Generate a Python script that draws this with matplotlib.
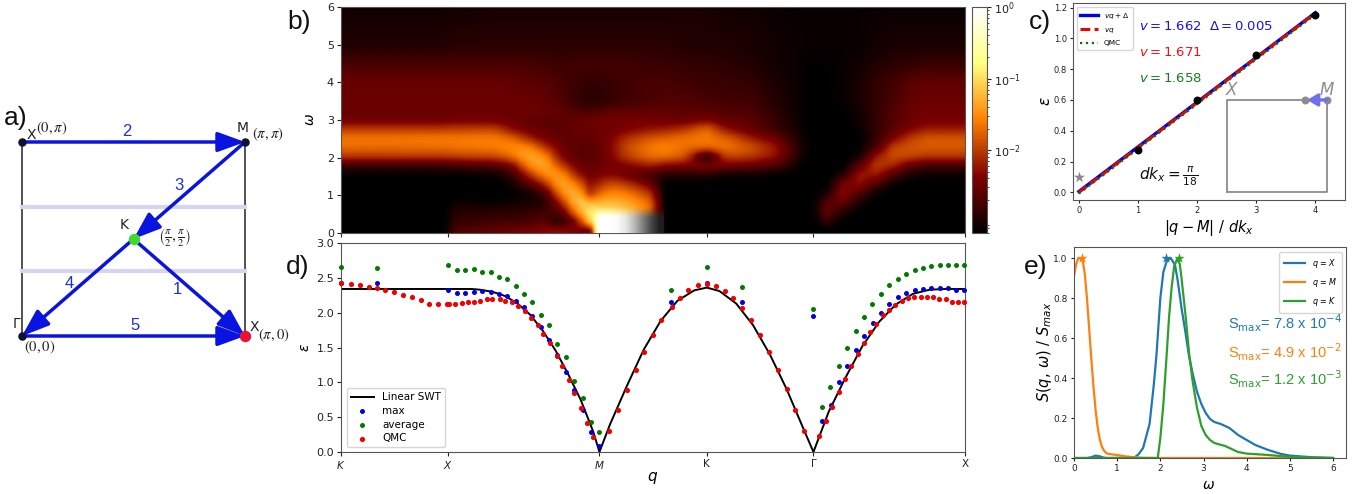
import numpy as np
import matplotlib
matplotlib.use("Agg")
import matplotlib.pyplot as plt
from matplotlib.cm import ScalarMappable
from matplotlib.colors import LogNorm
from matplotlib.ticker import LogLocator, NullFormatter

W, H = 1364, 494

# ---------- shared path ticks ----------
q_ticks = [0, 12.75, 30.73, 43.5, 56.18, 74.2]
q_labels = ['$K$', '$X$', '$M$', 'K', 'Γ', 'X']

# ---------- panel b: log10 S(q, w) ----------
omega_rows = [0, .25, .5, .75, 1, 1.25, 1.5, 1.75, 2, 2.25, 2.5, 2.75, 3, 3.25, 3.5, 4, 4.5, 5, 6]
q_cols = [0, 6, 12, 13, 18, 20, 22, 24, 26, 28, 29.5, 30.7, 32, 34, 37, 38.5, 41, 43.5, 46, 49,
          52, 55, 56.5, 58, 60, 62, 64, 66, 68, 70, 74.2]
log_s_cols = [
    [-3.2, -3.2, -3.2, -3.2, -3.2, -3.2, -3.15, -2.85, -2.05, -1.72, -1.62, -2.0, -2.48, -2.5, -2.5, -2.5, -2.7, -2.95, -3.05],
    [-3.2, -3.2, -3.2, -3.2, -3.2, -3.2, -3.15, -2.85, -2.05, -1.72, -1.62, -2.0, -2.48, -2.5, -2.5, -2.5, -2.7, -2.95, -3.05],
    [-3.2, -3.2, -3.2, -3.2, -3.2, -3.2, -3.15, -2.85, -2.05, -1.7, -1.6, -2.0, -2.48, -2.5, -2.5, -2.5, -2.7, -2.95, -3.05],
    [-2.7, -2.85, -2.95, -3.05, -3.2, -3.2, -3.15, -2.8, -2.0, -1.68, -1.6, -1.98, -2.45, -2.5, -2.5, -2.5, -2.7, -2.9, -3.05],
    [-2.55, -2.75, -2.9, -3.1, -3.2, -3.2, -3.1, -2.7, -1.95, -1.62, -1.58, -1.95, -2.45, -2.5, -2.5, -2.5, -2.7, -2.9, -3.0],
    [-2.5, -2.75, -2.9, -3.05, -3.15, -3.1, -2.9, -2.5, -1.75, -1.5, -1.7, -2.3, -2.5, -2.5, -2.5, -2.55, -2.7, -2.9, -3.0],
    [-2.45, -2.7, -2.85, -3.0, -3.1, -2.7, -2.2, -1.6, -1.3, -1.45, -2.1, -2.5, -2.55, -2.5, -2.5, -2.6, -2.7, -2.9, -3.0],
    [-2.35, -2.6, -2.75, -3.0, -2.8, -2.2, -1.55, -1.25, -1.4, -2.0, -2.45, -2.55, -2.6, -2.5, -2.55, -2.6, -2.75, -2.9, -3.0],
    [-2.3, -3.0, -2.7, -2.2, -1.6, -1.25, -1.35, -1.9, -2.4, -2.5, -2.55, -2.6, -2.6, -2.55, -2.65, -2.7, -2.8, -2.9, -3.0],
    [-2.4, -2.3, -1.5, -1.05, -1.1, -1.6, -2.2, -2.5, -2.6, -2.6, -2.55, -2.5, -2.55, -2.65, -2.85, -2.8, -2.75, -2.9, -3.0],
    [-2.6, -1.1, -0.85, -1.2, -2.1, -2.3, -2.45, -2.55, -2.6, -2.6, -2.55, -2.5, -2.5, -2.7, -2.9, -2.85, -2.75, -2.9, -3.0],
    [-0.2, -0.4, -0.85, -1.25, -1.7, -2.1, -2.4, -2.5, -2.55, -2.55, -2.5, -2.45, -2.45, -2.65, -2.9, -2.85, -2.75, -2.9, -3.0],
    [-0.3, -0.5, -0.9, -1.2, -1.5, -1.85, -2.3, -2.45, -2.4, -2.35, -2.4, -2.5, -2.45, -2.55, -2.85, -2.8, -2.75, -2.9, -3.0],
    [-0.8, -0.9, -1.1, -1.3, -1.6, -2.0, -2.5, -2.4, -2.0, -1.9, -2.05, -2.4, -2.45, -2.55, -2.75, -2.75, -2.75, -2.9, -3.0],
    [-1.5, -1.6, -1.7, -1.75, -2.05, -2.5, -2.8, -2.2, -1.7, -1.6, -1.8, -2.25, -2.45, -2.55, -2.7, -2.7, -2.8, -2.9, -3.0],
    [-3.2, -3.2, -3.2, -3.2, -3.2, -3.2, -2.95, -2.4, -1.7, -1.55, -1.75, -2.2, -2.5, -2.55, -2.65, -2.7, -2.8, -2.9, -3.0],
    [-3.2, -3.2, -3.2, -3.2, -3.2, -3.2, -2.95, -2.45, -1.85, -1.7, -1.65, -2.05, -2.5, -2.6, -2.65, -2.75, -2.85, -2.95, -3.0],
    [-3.2, -3.2, -3.2, -3.2, -3.2, -3.2, -2.95, -2.35, -3.1, -1.75, -1.6, -1.7, -2.4, -2.6, -2.7, -2.8, -2.85, -2.95, -3.0],
    [-3.2, -3.2, -3.2, -3.2, -3.2, -3.2, -3.1, -2.5, -1.95, -1.65, -1.75, -2.3, -2.55, -2.65, -2.75, -2.8, -2.9, -2.95, -3.05],
    [-3.2, -3.2, -3.2, -3.2, -3.2, -3.2, -3.1, -2.55, -2.05, -1.85, -2.2, -2.55, -2.6, -2.7, -2.75, -2.85, -2.95, -3.0, -3.05],
    [-3.2, -3.2, -3.2, -3.2, -3.2, -3.2, -3.15, -2.75, -2.3, -2.25, -2.5, -2.8, -2.85, -2.9, -2.95, -3.0, -3.05, -3.05, -3.1],
    [-3.2, -3.2, -3.2, -3.2, -3.2, -3.2, -3.2, -3.15, -3.05, -3.0, -3.05, -3.1, -3.1, -3.1, -3.1, -3.1, -3.1, -3.1, -3.1],
    [-3.2, -3.2, -3.2, -3.2, -3.2, -3.2, -3.2, -3.2, -3.2, -3.2, -3.2, -3.2, -3.2, -3.2, -3.2, -3.2, -3.15, -3.1, -3.1],
    [-3.2, -2.8, -2.5, -2.6, -3.0, -3.2, -3.2, -3.2, -3.2, -3.2, -3.2, -3.2, -3.2, -3.2, -3.2, -3.15, -3.15, -3.1, -3.1],
    [-3.2, -3.2, -2.95, -2.55, -2.3, -2.4, -2.9, -3.2, -3.2, -3.2, -3.2, -3.2, -3.15, -3.15, -3.1, -3.1, -3.1, -3.1, -3.1],
    [-3.2, -3.2, -3.2, -3.0, -2.7, -2.3, -2.2, -2.55, -3.0, -3.15, -3.15, -3.1, -3.05, -3.05, -3.0, -3.0, -3.05, -3.1, -3.1],
    [-3.2, -3.2, -3.2, -3.2, -3.1, -2.7, -2.25, -2.0, -2.2, -2.7, -2.85, -2.85, -2.85, -2.85, -2.85, -2.85, -2.95, -3.05, -3.1],
    [-3.2, -3.2, -3.2, -3.2, -3.2, -3.1, -2.7, -2.15, -1.9, -1.95, -2.4, -2.6, -2.65, -2.65, -2.7, -2.75, -2.9, -3.0, -3.1],
    [-3.2, -3.2, -3.2, -3.2, -3.2, -3.2, -3.0, -2.6, -1.95, -1.85, -2.0, -2.4, -2.5, -2.5, -2.55, -2.6, -2.85, -3.0, -3.1],
    [-3.2, -3.2, -3.2, -3.2, -3.2, -3.2, -3.1, -2.8, -2.05, -1.82, -1.82, -2.2, -2.45, -2.45, -2.5, -2.55, -2.8, -3.0, -3.1],
    [-3.2, -3.2, -3.2, -3.2, -3.2, -3.2, -3.1, -2.8, -2.05, -1.82, -1.82, -2.2, -2.45, -2.45, -2.5, -2.55, -2.8, -3.0, -3.1],
]
# white/grey glow next to M, fades out towards q = 38
glow_gray = [1.0, 1.0, 1.0, 0.98, 0.9, 0.72, 0.5, 0.28, 0.12]
glow_fade = [0.0, 1.0, 1.0, 1.0, 1.0, 1.0, 1.0, 1.0, 1.0]
glow_rows = [1.0, 1.0, 0.0]

# ---------- panel d ----------
swt_q = [0, 8, 14, 15.5, 16.5, 18, 19.5, 21, 22.5, 24, 25.5, 27, 28.5, 30, 30.73, 32, 34, 36, 38, 40, 42, 43.5,
         45, 47, 49, 51, 53, 55, 56.18, 58, 60, 62, 64, 66, 68, 70, 72, 74.2]
swt_e = [2.34, 2.34, 2.34, 2.34, 2.33, 2.30, 2.24, 2.13, 1.97, 1.74, 1.46, 1.12, 0.75, 0.29, 0, 0.40, 0.95, 1.47,
         1.88, 2.17, 2.32, 2.36, 2.31, 2.13, 1.82, 1.40, 0.90, 0.33, 0, 0.58, 1.07, 1.52, 1.87, 2.12, 2.27, 2.33, 2.34, 2.34]

max_q = [0, 4.26, 12.74, 13.77, 14.76, 15.76, 16.75, 17.78, 18.77, 19.76, 20.75, 21.74, 22.77, 23.76, 24.75, 25.74,
         26.77, 27.76, 28.75, 29.78, 30.73, 39.22, 43.5, 47.74, 56.18, 57.21, 58.24, 59.19, 60.18, 61.21, 62.2, 63.23,
         64.23, 65.22, 66.21, 67.2, 68.23, 69.22, 70.21, 71.2, 72.19, 73.18, 74.13]
max_e = [2.43, 2.43, 2.33, 2.28, 2.28, 2.30, 2.31, 2.30, 2.27, 2.24, 2.17, 2.08, 1.95, 1.80, 1.61, 1.39, 1.15, 0.89,
         0.60, 0.28, 0.09, 2.16, 2.43, 2.16, 1.95, 0.44, 0.67, 1.01, 1.23, 1.46, 1.67, 1.85, 2.0, 2.13, 2.23, 2.28,
         2.32, 2.34, 2.36, 2.35, 2.35, 2.33, 2.33]

avg_q = [0, 4.26, 12.74, 13.77, 14.76, 15.76, 16.75, 17.78, 18.77, 19.76, 20.75, 21.74, 22.77, 23.76, 24.75, 25.74,
         26.77, 27.76, 28.75, 29.78, 30.73, 39.22, 43.5, 47.74, 56.18, 57.21, 58.2, 59.19, 60.18, 61.21, 62.2, 63.2,
         64.19, 65.22, 66.21, 67.2, 68.23, 69.22, 70.21, 71.2, 72.19, 73.18, 74.13]
avg_e = [2.66, 2.64, 2.68, 2.61, 2.61, 2.62, 2.58, 2.59, 2.51, 2.48, 2.38, 2.27, 2.16, 1.96, 1.82, 1.55, 1.37, 1.02,
         0.78, 0.43, 0.28, 2.32, 2.66, 2.37, 2.05, 0.65, 0.94, 1.24, 1.50, 1.74, 1.94, 2.12, 2.27, 2.39, 2.49, 2.56,
         2.61, 2.64, 2.67, 2.68, 2.68, 2.68, 2.68]

qmc_q = [0, 1.13, 2.24, 3.35, 4.26, 5.25, 6.28, 7.39, 8.46, 9.57, 10.44, 11.51, 12.66, 12.86, 13.54, 14.37, 15.08,
         15.76, 16.55, 17.34, 18.01, 18.85, 19.52, 20.31, 21.1, 21.86, 22.65, 23.37, 24.04, 24.83, 25.66, 26.3, 27.09,
         27.73, 28.56, 29.27, 30.02, 31.85, 32.96, 33.95, 35.02, 36.05, 37.11, 38.11, 39.33, 40.33, 41.32, 42.43,
         43.54, 44.65, 45.64, 46.63, 47.74, 48.81, 49.8, 50.91, 52.02, 53.01, 54.0, 55.07, 56.89, 57.69, 58.36, 59.19,
         59.91, 60.66, 61.45, 62.16, 62.92, 63.63, 64.46, 65.22, 65.93, 66.68, 67.4, 68.19, 68.98, 69.7, 70.37, 71.12,
         71.95, 72.67, 73.42, 74.13]
qmc_e = [2.42, 2.41, 2.39, 2.37, 2.35, 2.32, 2.29, 2.26, 2.22, 2.18, 2.13, 2.13, 2.13, 2.13, 2.125, 2.14, 2.15, 2.16,
         2.17, 2.19, 2.20, 2.20, 2.17, 2.15, 2.09, 2.02, 1.93, 1.83, 1.70, 1.57, 1.38, 1.23, 1.04, 0.84, 0.63, 0.42,
         0.21, 0.30, 0.60, 0.89, 1.18, 1.44, 1.68, 1.90, 2.08, 2.21, 2.33, 2.39, 2.41, 2.38, 2.31, 2.21, 2.06, 1.89,
         1.68, 1.44, 1.18, 0.90, 0.60, 0.30, 0.23, 0.45, 0.65, 0.86, 1.05, 1.24, 1.41, 1.57, 1.72, 1.84, 1.96, 2.04,
         2.11, 2.17, 2.21, 2.23, 2.23, 2.22, 2.22, 2.19, 2.19, 2.16, 2.16, 2.15]

# ---------- panel c ----------
fit_x = [0, 4]
fit_blue = [0.005, 1.167]
fit_red = [0.0, 1.165]
fit_green = [-0.008, 1.155]
qmc_x = [1, 2, 3, 4]
qmc_y = [0.275, 0.60, 0.89, 1.15]

# ---------- panel e ----------
wx = [0, .3, .4, .5, .6, .7, .8, 1.4, 1.5, 1.6, 1.75, 1.85, 1.91, 2.0, 2.07, 2.15, 2.24, 2.34, 2.4, 2.49, 2.58, 2.66,
      2.75, 2.85, 2.95, 3.05, 3.15, 3.25, 3.4, 3.6, 3.8, 4.0, 4.2, 4.5, 4.8, 5.0, 5.5, 6.0]
sx = [0, 0, .004, .012, .008, .001, 0, .002, .02, .05, .17, .37, .515, .8, .93, .985, 1.0, .965, .89, .75, .63, .515,
      .42, .33, .27, .225, .195, .18, .17, .15, .115, .09, .065, .04, .02, .012, .004, 0]
wm = [0, .05, .1, .2, .25, .3, .35, .4, .45, .5, .55, .6, .65, .7, .75, .8, 1.0, 1.2, 1.4, 1.6, 2.0, 6.0]
sm = [.91, .97, 1.0, .99, .92, .8, .65, .5, .36, .24, .15, .09, .055, .035, .025, .02, .015, .008, .004, .001, 0, 0]
wk = [0, 1.94, 2.0, 2.07, 2.146, 2.2, 2.26, 2.32, 2.4, 2.45, 2.49, 2.58, 2.67, 2.75, 2.85, 2.95, 3.05, 3.15, 3.25, 3.5,
      3.8, 4.0, 4.5, 5.0, 5.5, 6.0]
sk = [0, 0, .1, .27, .515, .7, .85, .96, 1.0, .97, .9, .72, .515, .38, .25, .16, .115, .09, .075, .06, .03, .022, .015,
      .006, .002, 0]
star_w = [2.13, 0.19, 2.43]

# ---------- panel a ----------
path_x = {'X1': 0, 'M': 1, 'K': 0.5, 'G': 0, 'X2': 1}
path_y = {'X1': 1, 'M': 1, 'K': 0.5, 'G': 0, 'X2': 0}
path_order = [('X1', 'M'), ('M', 'K'), ('K', 'G'), ('K', 'X2'), ('G', 'X2')]


def px_axes(fig, left, top, right, bottom):
    return fig.add_axes([left / W, 1 - bottom / H, (right - left) / W, (bottom - top) / H])


def ftext(fig, x, y, s, **kw):
    kw.setdefault('ha', 'center')
    kw.setdefault('va', 'center')
    return fig.text(x / W, 1 - y / H, s, **kw)


plt.rcParams['font.family'] = 'DejaVu Sans'
plt.rcParams['axes.edgecolor'] = '#555555'
plt.rcParams['xtick.color'] = '#222222'
plt.rcParams['ytick.color'] = '#222222'

fig = plt.figure(figsize=(W / 100, H / 100), dpi=100)

# panel letters
for x, y, s in [(16, 118, 'a)'), (299, 22, 'b)'), (1040, 22, 'c)'), (298, 267, 'd)'), (1036, 267, 'e)')]:
    ftext(fig, x, y, s, fontsize=19, family='Liberation Sans', color='#111111')

# ---------- a) Brillouin zone path ----------
ax = px_axes(fig, 22, 142, 245, 336)
ax.set_xlim(0, 1)
ax.set_ylim(0, 1)
ax.axis('off')
ax.plot([0, 0], [0, 1], color='#222222', lw=1.1, clip_on=False)
ax.plot([1, 1], [0, 1], color='#222222', lw=1.1, clip_on=False)
for yy in [0.666, 0.333]:
    ax.plot([0, 1], [yy, yy], color='#d5d5f2', lw=3, clip_on=False)
for a, b in path_order:
    ax.annotate('', xy=(path_x[b], path_y[b]), xytext=(path_x[a], path_y[a]),
                arrowprops=dict(arrowstyle='-|>,head_length=1.1,head_width=0.4', mutation_scale=15,
                                color='#0a14e0', lw=2.5, shrinkA=0, shrinkB=0), annotation_clip=False)
ax.scatter([0, 1, 0], [1, 1, 0], s=26, color='#101030', clip_on=False, zorder=5)
ax.scatter([0.5], [0.5], s=52, color='#3ddc2c', clip_on=False, zorder=5)
ax.scatter([1], [0], s=52, color='#ee1030', clip_on=False, zorder=5)

for x, y, s in [(127, 131, '2'), (179, 186, '3'), (69, 283, '4'), (177, 289, '1'), (135, 326, '5')]:
    ftext(fig, x, y, s, fontsize=12, color='#1a2ee0', family='Liberation Sans')
for x, y, s in [(31, 135, 'X'), (243, 128, 'M'), (124, 225, 'K'), (16, 324, 'Γ'), (254, 327, 'X')]:
    ftext(fig, x, y, s, fontsize=10, color='#222222')
plt.rcParams['mathtext.fontset'] = 'stix'
for x, y, s, fs in [(52, 128, r'$(0,\pi)$', 10.5), (268, 134, r'$(\pi,\pi)$', 10.5), (40, 347, r'$(0,0)$', 10.5),
                    (274, 335, r'$(\pi,0)$', 10.5),
                    (175, 238, r'$\left(\frac{\pi}{2},\frac{\pi}{2}\right)$', 11)]:
    ftext(fig, x, y, s, fontsize=fs, color='#222222')
fig.canvas.draw()
plt.rcParams['mathtext.fontset'] = 'dejavusans'

# ---------- b) heat map ----------
ax = px_axes(fig, 341, 7, 965, 233)
log_s = np.array(log_s_cols).T
# put the read-off table on an even grid so imshow can smooth it
q_even = np.linspace(0, 74.2, 74)
w_even = np.linspace(0, 6, 48)
by_q = np.array([np.interp(q_even, q_cols, row) for row in log_s])
by_qw = np.array([np.interp(w_even, omega_rows, col) for col in by_q.T]).T
ax.imshow(by_qw, cmap='afmhot', vmin=-3.16, vmax=0, origin='lower', extent=(0, 74.2, 0, 6), aspect='auto',
          interpolation='gaussian')
glow_alpha = np.outer(glow_rows, glow_fade)
ax.imshow(np.tile(glow_gray, (3, 1)), cmap='gray', vmin=0, vmax=1, origin='lower', alpha=glow_alpha,
          extent=(29.4, 38.4, 0, 0.8), aspect='auto', interpolation='bilinear', zorder=3)
ax.set_xlim(0, 74.2)
ax.set_ylim(0, 6)
ax.set_xticks(q_ticks)
ax.set_xticklabels([])
ax.set_yticks(range(7))
ax.tick_params(labelsize=8, length=3, pad=2)
ftext(fig, 310, 120, r'$\omega$', fontsize=10, rotation=90)

cax = px_axes(fig, 972, 7, 987, 233)
cb = fig.colorbar(ScalarMappable(norm=LogNorm(vmin=10 ** -3.16, vmax=1), cmap='afmhot'), cax=cax)
cb.set_ticks([1, 0.1, 0.01])
cb.set_ticklabels(['$10^{0}$', '$10^{-1}$', '$10^{-2}$'])
cb.ax.yaxis.set_minor_locator(LogLocator(base=10, subs=np.arange(2, 10) * 0.1, numticks=10))
cb.ax.yaxis.set_minor_formatter(NullFormatter())
cb.ax.tick_params(which='major', labelsize=8, length=3, pad=2)
cb.ax.tick_params(which='minor', length=1.5)

# ---------- d) dispersion ----------
ax = px_axes(fig, 341, 243, 965, 452)
ax.plot(swt_q, swt_e, color='black', lw=1.4, label='Linear SWT')
ax.scatter(max_q, max_e, s=13, color='#0000e6', linewidths=0, label='max', clip_on=False, zorder=3)
ax.scatter(avg_q, avg_e, s=13, color='#007a00', linewidths=0, label='average', clip_on=False, zorder=3)
ax.scatter(qmc_q, qmc_e, s=14, color='#f00000', linewidths=0, label='QMC', clip_on=False, zorder=4)
ax.set_xlim(0, 74.2)
ax.set_ylim(0, 3)
ax.set_xticks(q_ticks)
ax.set_xticklabels(q_labels)
ax.set_yticks(np.arange(0, 3.5, 0.5))
ax.tick_params(labelsize=8, length=3, pad=2)
ax.tick_params(axis='x', labelsize=7.5)
ax.legend(loc='lower left', bbox_to_anchor=(0.009, 0.022), borderaxespad=0, fontsize=7.5, labelspacing=0.35,
          handlelength=2.2, borderpad=0.4)
ftext(fig, 653, 478, r'$q$', fontsize=11)
ftext(fig, 305, 347, r'$\varepsilon$', fontsize=10, rotation=90)

# ---------- c) linear fit ----------
ax = px_axes(fig, 1073, 3, 1345, 200)
ax.plot(fit_x, fit_blue, color='#0000ee', lw=2.4, label=r'$vq + \Delta$')
ax.plot(fit_x, fit_red, color='#ee0000', lw=2.2, ls=(0, (3.2, 1.4)), label=r'$vq$')
ax.plot(fit_x, fit_green, color='#007a00', lw=1.6, ls=':', label='QMC')
ax.scatter(qmc_x, qmc_y, s=22, color='black', zorder=4)
ax.scatter([0], [0.10], s=70, marker='*', color='#888888', linewidths=0, zorder=4)
ax.plot([2.5, 4.2, 4.2, 2.5, 2.5], [0, 0, 0.6, 0.6, 0], color='#8c8c8c', lw=1.3)
ax.scatter([3.83, 4.2], [0.6, 0.6], s=22, color='#8c8c8c', zorder=4)
ax.annotate('', xy=(3.86, 0.6), xytext=(4.2, 0.6),
            arrowprops=dict(arrowstyle='-|>,head_length=0.5,head_width=0.3', mutation_scale=12, color='#7070ee',
                            lw=2.4, shrinkA=0, shrinkB=0), zorder=5)
ax.text(2.6, 0.665, '$X$', color='#8c8c8c', fontsize=12, ha='center', va='center')
ax.text(4.2, 0.665, '$M$', color='#8c8c8c', fontsize=12, ha='center', va='center')
ax.text(1.02, 1.08, r'$v = 1.662$', color='#1414e0', fontsize=9.5, va='center')
ax.text(2.2, 1.08, r'$\Delta = 0.005$', color='#1414e0', fontsize=9.5, va='center')
ax.text(1.02, 0.91, r'$v = 1.671$', color='#ee1010', fontsize=9.5, va='center')
ax.text(1.02, 0.74, r'$v = 1.658$', color='#10801a', fontsize=9.5, va='center')
ax.text(1.02, 0.105, r'$dk_x = \frac{\pi}{18}$', color='#111111', fontsize=11, va='center')
ax.set_xlim(-0.1, 4.5)
ax.set_ylim(-0.05, 1.23)
ax.set_xticks([0, 1, 2, 3, 4])
ax.set_yticks(np.arange(0, 1.4, 0.2))
ax.tick_params(labelsize=6, length=2.5, pad=2)
ax.legend(loc='upper left', bbox_to_anchor=(0.013, 0.98), borderaxespad=0, fontsize=5.3, labelspacing=0.7,
          handlelength=2.4, borderpad=0.5)
ftext(fig, 1209, 228, r'$|q - M|\ /\ dk_x$', fontsize=10.5)
ftext(fig, 1046, 101, r'$\varepsilon$', fontsize=11, rotation=90)

# ---------- e) line cuts ----------
ax = px_axes(fig, 1074, 247, 1346, 458)
ax.plot(wx, sx, color='tab:blue', lw=1.6, label='$q$ = $X$')
ax.plot(wm, sm, color='tab:orange', lw=1.6, label='$q$ = $M$')
ax.plot(wk, sk, color='tab:green', lw=1.6, label='$q$ = $K$')
for w, c in zip(star_w, ['tab:blue', 'tab:orange', 'tab:green']):
    ax.scatter([w], [1.0], s=60, marker='*', color=c, linewidths=0, zorder=4)
ax.set_xlim(0, 6.3)
ax.set_ylim(0, 1.055)
ax.set_xticks(range(7))
ax.set_yticks(np.arange(0, 1.2, 0.2))
ax.tick_params(labelsize=6.5, length=2.5, pad=2)
ax.legend(loc='upper right', bbox_to_anchor=(0.985, 0.975), borderaxespad=0, fontsize=5.8, labelspacing=0.75,
          handlelength=2.6, borderpad=0.6)
for y, s, c in [(323, r'S$_{\mathrm{max}}$= 7.8 x 10$^{-4}$', 'tab:blue'),
                (352, r'S$_{\mathrm{max}}$= 4.9 x 10$^{-2}$', 'tab:orange'),
                (379, r'S$_{\mathrm{max}}$= 1.2 x 10$^{-3}$', 'tab:green')]:
    ftext(fig, 1228, y, s, fontsize=10.5, color=c, ha='left', family='Liberation Sans')
ftext(fig, 1209, 485, r'$\omega$', fontsize=10)
ftext(fig, 1044, 352, r'$S(q,\,\omega)\ /\ S_{max}$', fontsize=10.5, rotation=90)

fig.savefig('out.png', dpi=100)
